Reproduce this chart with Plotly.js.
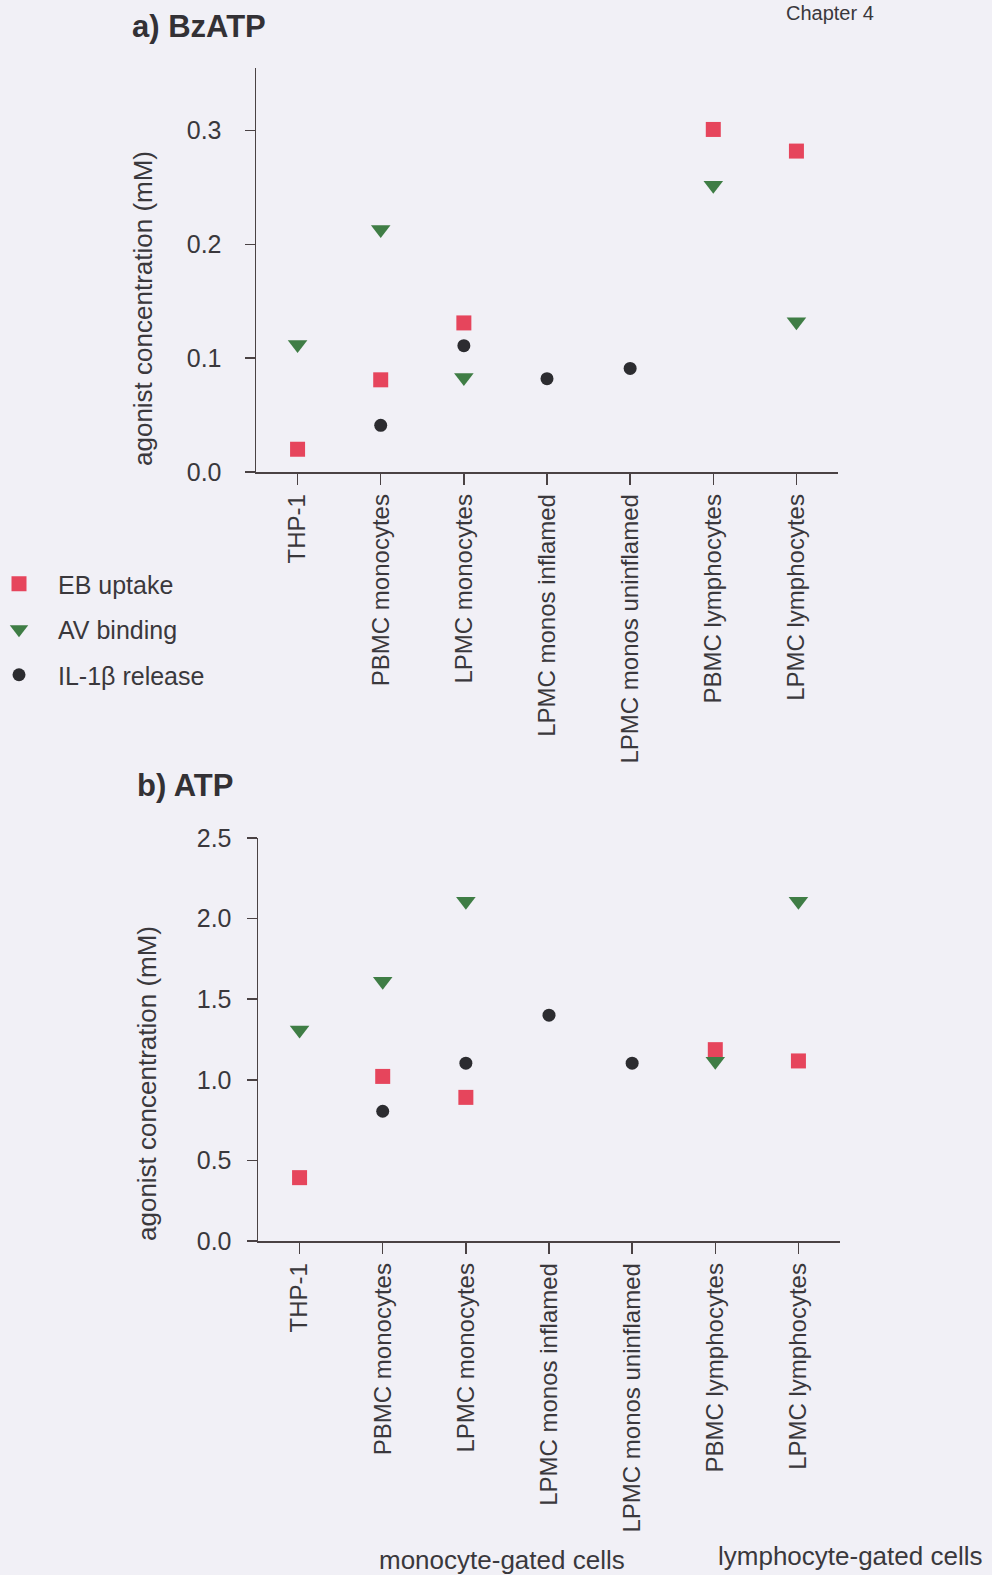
<!DOCTYPE html>
<html>
<head>
<meta charset="utf-8">
<script src="https://cdn.plot.ly/plotly-3.0.1.min.js"></script>
<style>
  html, body { margin: 0; padding: 0; background: #f1f0f6; }
  #chart { width: 992px; height: 1575px; }
</style>
</head>
<body>
<div id="chart"></div>
<script>
// ---- data ----
const categories = ["THP-1", "PBMC monocytes", "LPMC monocytes", "LPMC monos inflamed",
                    "LPMC monos uninflamed", "PBMC lymphocytes", "LPMC lymphocytes"];
const seriesNames = ["EB uptake", "AV binding", "IL-1\u03b2 release"];

// a) BzATP (mM)
const bzEB = [0.020, 0.081, 0.131, null, null, 0.301, 0.282];
const bzAV = [0.112, 0.213, 0.083, null, null, 0.252, 0.132];
const bzIL = [null, 0.041, 0.111, 0.082, 0.091, null, null];

// b) ATP (mM)
const atpEB = [0.393, 1.021, 0.891, null, null, 1.187, 1.117];
const atpAV = [1.309, 1.611, 2.107, null, null, 1.115, 2.107];
const atpIL = [null, 0.805, 1.103, 1.401, 1.103, null, null];

const yTicksA = [0.0, 0.1, 0.2, 0.3];
const yTicksB = [0.0, 0.5, 1.0, 1.5, 2.0, 2.5];

// ---- style ----
const W = 992, H = 1575;
const px = v => v / W;
const py = v => 1 - v / H;
const FONT = "Liberation Sans, Arial, sans-serif";
const TXT = "#3a383c";
const AXC = "#4a4244";
const styles = [
  {symbol: "square", size: 15, color: "#e6455c"},
  {symbol: "triangle-down", size: 17, color: "#3f7d45"},
  {symbol: "circle", size: 13, color: "#2c2c30"}
];

function mk(vals, i, xa, ya, show) {
  return {
    type: "scatter", mode: "markers",
    x: categories, y: vals,
    xaxis: xa, yaxis: ya,
    name: seriesNames[i], legendgroup: "g" + i, showlegend: show,
    marker: {symbol: styles[i].symbol, size: styles[i].size, color: styles[i].color,
             line: {width: 0}},
    cliponaxis: false, hoverinfo: "x+y+name"
  };
}

const traces = [
  mk(bzEB, 0, "x", "y", true), mk(bzAV, 1, "x", "y", true), mk(bzIL, 2, "x", "y", true),
  mk(atpEB, 0, "x2", "y2", false), mk(atpAV, 1, "x2", "y2", false), mk(atpIL, 2, "x2", "y2", false)
];

const xCommon = {
  type: "category", range: [-0.5, 6.5], showline: true, linecolor: AXC, linewidth: 1.5,
  ticks: "outside", ticklen: 11, tickwidth: 1.5, tickcolor: AXC, tickangle: -90,
  showgrid: false, zeroline: false, fixedrange: true, automargin: false,
  tickfont: {family: FONT, size: 24, color: TXT}, ticklabelstandoff: 0
};
const yCommon = {
  showline: true, linecolor: AXC, linewidth: 1.5,
  ticks: "outside", ticklen: 10, tickwidth: 1.5, tickcolor: AXC,
  showgrid: false, zeroline: false, fixedrange: true, automargin: false,
  tickfont: {family: FONT, size: 25, color: TXT}
};

const layout = {
  width: W, height: H,
  margin: {l: 0, r: 0, t: 0, b: 0, autoexpand: false},
  paper_bgcolor: "#f1f0f6", plot_bgcolor: "rgba(0,0,0,0)",
  font: {family: FONT, color: TXT},
  showlegend: true,
  legend: {
    x: px(-20), y: py(561), xanchor: "left", yanchor: "top",
    bgcolor: "rgba(0,0,0,0)", traceorder: "grouped", tracegroupgap: 10,
    font: {family: FONT, size: 25, color: TXT}, itemwidth: 68
  },
  xaxis: Object.assign({}, xCommon, {domain: [px(256), px(838)], anchor: "y"}),
  yaxis: Object.assign({}, yCommon, {domain: [py(472), py(68)], range: [0, 0.355],
          tickvals: yTicksA, ticktext: yTicksA.map(v => v.toFixed(1)), anchor: "x",
          ticklabelstandoff: 18}),
  xaxis2: Object.assign({}, xCommon, {domain: [px(258), px(840)], anchor: "y2"}),
  yaxis2: Object.assign({}, yCommon, {domain: [py(1241), py(838)], range: [0, 2.5],
          tickvals: yTicksB, ticktext: yTicksB.map(v => v.toFixed(1)), anchor: "x2",
          ticklabelstandoff: 10}),
  annotations: [
    {text: "<b>a) BzATP</b>", x: px(130), y: py(27), xref: "paper", yref: "paper",
     xanchor: "left", yanchor: "middle", showarrow: false,
     font: {family: FONT, size: 31, color: "#333135"}},
    {text: "<b>b) ATP</b>", x: px(135), y: py(785), xref: "paper", yref: "paper",
     xanchor: "left", yanchor: "middle", showarrow: false,
     font: {family: FONT, size: 31, color: "#333135"}},
    {text: "agonist concentration (mM)", x: px(143), y: py(309), xref: "paper", yref: "paper",
     textangle: -90, xanchor: "center", yanchor: "middle", showarrow: false,
     font: {family: FONT, size: 26, color: TXT}},
    {text: "agonist concentration (mM)", x: px(147), y: py(1084), xref: "paper", yref: "paper",
     textangle: -90, xanchor: "center", yanchor: "middle", showarrow: false,
     font: {family: FONT, size: 26, color: TXT}},
    {text: "monocyte-gated cells", x: px(502), y: py(1560), xref: "paper", yref: "paper",
     xanchor: "center", yanchor: "middle", showarrow: false,
     font: {family: FONT, size: 26, color: TXT}},
    {text: "lymphocyte-gated cells", x: px(850), y: py(1556), xref: "paper", yref: "paper",
     xanchor: "center", yanchor: "middle", showarrow: false,
     font: {family: FONT, size: 26, color: TXT}},
    {text: "Chapter 4", x: px(830), y: py(0), xref: "paper", yref: "paper",
     xanchor: "center", yanchor: "top", showarrow: false,
     font: {family: FONT, size: 20, color: TXT}}
  ]
};

Plotly.newPlot("chart", traces, layout, {displayModeBar: false, staticPlot: true});
</script>
</body>
</html>
